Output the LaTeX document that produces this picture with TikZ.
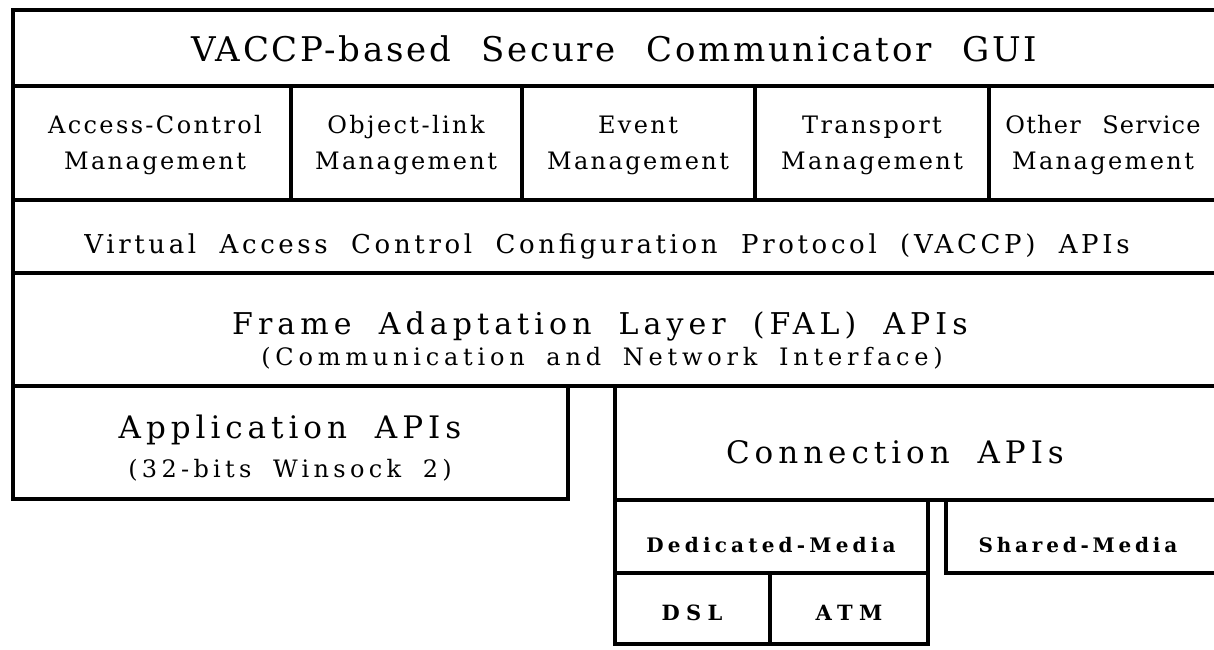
\documentclass[tikz,border=0pt]{standalone}
\usepackage{fontspec}
\setmainfont{DejaVu Serif}
\newcommand{\lab}[3]{\fontsize{#1}{#1}\selectfont\addfontfeature{LetterSpace=#2}\spaceskip=0.9em\relax #3}
\begin{document}
\begin{tikzpicture}[x=1pt,y=-1pt,
  ln/.style={line width=4.5pt, line join=miter},
  lbl/.style={anchor=base, inner sep=0pt, outer sep=0pt}]
\useasboundingbox (0,0) rectangle (1214,649);
\fill[white] (0,0) rectangle (1214,649);
% boxes
\draw[ln] (13,10) rectangle (1217,86);
\draw[ln] (13,86) rectangle (291,200);
\draw[ln] (291,86) rectangle (522,200);
\draw[ln] (522,86) rectangle (755,200);
\draw[ln] (755,86) rectangle (989,200);
\draw[ln] (989,86) rectangle (1217,200);
\draw[ln] (13,200) rectangle (1217,273);
\draw[ln] (13,273) rectangle (1217,386);
\draw[ln] (13,386) rectangle (568,499);
\draw[ln] (615,386) rectangle (1217,500);
\draw[ln] (615,500) rectangle (928,573);
\draw[ln] (946,500) rectangle (1217,573);
\draw[ln] (615,573) rectangle (770,644);
\draw[ln] (770,573) rectangle (928,644);
% texts
\node[lbl] (title) at (614,61) {\lab{34}{8}{VACCP-based Secure Communicator GUI}};
\node[lbl] (acm1) at (155,133) {\lab{24}{10}{Access-Control}};
\node[lbl] (acm2) at (155,169) {\lab{24}{10}{Management}};
\node[lbl] (olm1) at (406,133) {\lab{24}{10}{Object-link}};
\node[lbl] (olm2) at (406,169) {\lab{24}{10}{Management}};
\node[lbl] (evm1) at (638,133) {\lab{24}{10}{Event}};
\node[lbl] (evm2) at (638,169) {\lab{24}{10}{Management}};
\node[lbl] (trm1) at (872,133) {\lab{24}{10}{Transport}};
\node[lbl] (trm2) at (872,169) {\lab{24}{10}{Management}};
\node[lbl] (osm1) at (1103,133) {\lab{24}{5}{Other Service}};
\node[lbl] (osm2) at (1103,169) {\lab{24}{10}{Management}};
\node[lbl] (vaccp) at (607,253) {\lab{26}{14}{Virtual Access Control Configuration Protocol (VACCP) APIs}};
\node[lbl] (fal1) at (600,334) {\lab{30}{17}{Frame Adaptation Layer (FAL) APIs}};
\node[lbl] (fal2) at (602,365) {\lab{24}{20}{(Communication and Network Interface)}};
\node[lbl] (app1) at (290,438) {\lab{31}{16}{Application APIs}};
\node[lbl] (app2) at (290,477) {\lab{24}{18}{(32-bits Winsock 2)}};
\node[lbl] (conn) at (895,463) {\lab{31}{16}{Connection APIs}};
\node[lbl] (ded) at (771,552) {\bfseries\lab{20}{21}{Dedicated-Media}};
\node[lbl] (shr) at (1078,552) {\bfseries\lab{20}{19}{Shared-Media}};
\node[lbl] (dsl) at (692,620) {\bfseries\lab{21}{30}{DSL}};
\node[lbl] (atm) at (849,620) {\bfseries\lab{21}{30}{ATM}};
\end{tikzpicture}
\end{document}
